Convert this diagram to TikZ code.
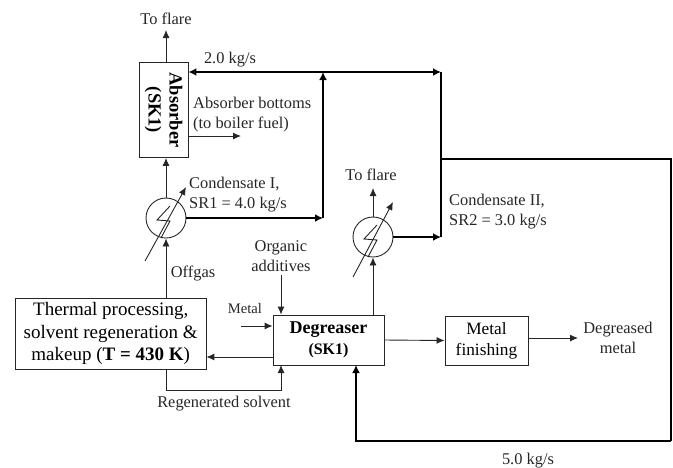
\documentclass[tikz,border=0pt]{standalone}
\usepackage{amsmath}
\usepackage{fontspec}
\setmainfont{Liberation Serif}
\usetikzlibrary{arrows.meta}
\usetikzlibrary{calc}
\begin{document}
\begin{tikzpicture}[x=1pt, y=-1pt]
		\tikzset{unit/.style={shape = rectangle, draw = black!85, line width = 0.9pt, inner sep = 0pt, align = center, font = \fontsize{17.3}{21}\selectfont}}
		\tikzset{cooler/.style={shape = circle, draw = black!85, line width = 0.9pt, minimum size = 40pt, inner sep = 0pt}}
		\tikzset{label/.style={inner sep = 0pt, align = center, text = black!85, font = \fontsize{16.4}{20}\selectfont}}
		\tikzset{edge/.style={-{Latex[length = 8pt, width = 7pt]}, draw = black!85, line width = 0.9pt}}
		\tikzset{heavy/.style={-{Latex[length = 8pt, width = 8pt]}, line width = 1.7pt}}
		\useasboundingbox (0, 0) rectangle (673, 467);
					%units
					\node[unit, minimum width = 95pt, minimum height = 49pt, rotate = -90] (absorber) at (163.5, 110) {\fontsize{18.5}{23}\selectfont\textbf{Absorber}\\ \fontsize{18.5}{23}\selectfont\textbf{(SK1)}};
					\node[unit, minimum width = 190.5pt, minimum height = 71pt, font = \fontsize{19}{22.3}\selectfont] (thermal) at (110.7, 333.5) {Thermal processing,\\solvent regeneration \&\\makeup (\textbf{T = 430 K})};
					\node[unit, minimum width = 111pt, minimum height = 50pt] (degreaser) at (328.5, 340) {\fontsize{18}{21}\selectfont\textbf{Degreaser}\\ \fontsize{16}{20}\selectfont\textbf{(SK1)}};
					\node[unit, minimum width = 83pt, minimum height = 49pt] (finishing) at (486.5, 340.5) {Metal\\finishing};
					\node[cooler] (hxa) at (166, 218) {};
					\node[cooler] (hxb) at (373, 237) {};
					%labels
					\node[label] (flarea) at (166, 19) {To flare};
					\node[label] (flareb) at (371, 175) {To flare};
					\node[label] (recycle) at (230, 60) {2.0 kg/s};
					\node[label, align = left, anchor = west] (bottoms) at (193, 115) {Absorber bottoms\\(to boiler fuel)};
					\node[label, align = left, anchor = west] (condensatea) at (189, 195) {Condensate I,\\SR1 = 4.0 kg/s};
					\node[label, align = left, anchor = west] (condensateb) at (449, 211.5) {Condensate II,\\SR2 = 3.0 kg/s};
					\node[label] (offgas) at (193, 273) {Offgas};
					\node[label] (organic) at (281, 256.5) {Organic\\additives};
					\node[label, font = \fontsize{14.6}{18}\selectfont] (metal) at (245, 308) {Metal};
					\node[label] (regenerated) at (224, 404) {Regenerated solvent};
					\node[label] (degreased) at (618, 338) {Degreased\\metal};
					\node[label] (return) at (528, 461) {5.0 kg/s};
					%junctions
					\coordinate (topa) at (323, 72);
					\coordinate (topb) at (441, 72);
					\coordinate (branch) at (441, 159);
					\coordinate (corner) at (671, 159);
					\coordinate (bottom) at (671, 441);
					\coordinate (backin) at (356, 365);
					\coordinate (metalin) at (241, 326);
					\coordinate (dgout) at (273, 357);
					\coordinate (regenout) at (166, 369);
					\coordinate (regenin) at (281, 365);
					\coordinate (finout) at (528, 338);
					\coordinate (finend) at (578, 338);
					\coordinate (aira) at (145, 261);
					\coordinate (airb) at (186, 187);
					\coordinate (airc) at (353, 277);
					\coordinate (aird) at (393, 202);
					%edges
					\draw[edge] (flarea |- absorber.west) -- (flarea |- 0, 30);
					\draw[edge] (hxa.north) -- (hxa.north |- absorber.east);
					\draw[edge] (hxa.south |- thermal.north) -- (hxa.south);
					\draw[edge] (absorber.north |- 0, 136) -- (241, 136);
					\draw[edge] (aira) -- (airb);
					\draw[edge] (airc) -- (aird);
					\draw[edge] (hxb.north) -- (hxb.north |- 0, 188);
					\draw[edge] (hxb.south |- degreaser.north) -- (hxb.south);
					\draw[edge] (organic |- 0, 275) -- (organic |- degreaser.north);
					\draw[edge] (metalin) -- (metalin -| degreaser.west);
					\draw[edge] (dgout) -- (dgout -| thermal.east);
					\draw[edge] (regenout) |- (regenin |- 0, 390) -- (regenin);
					\draw[edge] (degreaser.east) -- (finishing.west);
					\draw[edge] (finout) -- (finend);
					\draw[heavy] (hxa.east) -- (hxa.east -| topa);
					\draw[heavy] (hxa.east -| topa) -- (topa);
					\draw[heavy] (topa) -- (topa -| absorber.north);
					\draw[heavy] (topa) -- (topb);
					\draw[heavy, -] (topb) -- (branch);
					\draw[heavy] (hxb.east) -- (hxb.east -| topb);
					\draw[heavy, -] (hxb.east -| topb) -- (branch);
					\draw[line width = 1.3pt] (branch) -- (corner) -- (bottom);
					\draw[heavy] (bottom) -- (bottom -| backin) -- (backin);
					%lightning
					\draw[line width = 0.9pt, draw = black!85] ($(hxa) + (4, -12)$) -- ($(hxa) + (-9, 2)$) -- ($(hxa) + (4, 3)$) -- ($(hxa) + (-5, 20)$);
					\draw[line width = 0.9pt, draw = black!85] ($(hxb) + (4, -12)$) -- ($(hxb) + (-9, 2)$) -- ($(hxb) + (4, 3)$) -- ($(hxb) + (-5, 20)$);
\end{tikzpicture}
\end{document}
